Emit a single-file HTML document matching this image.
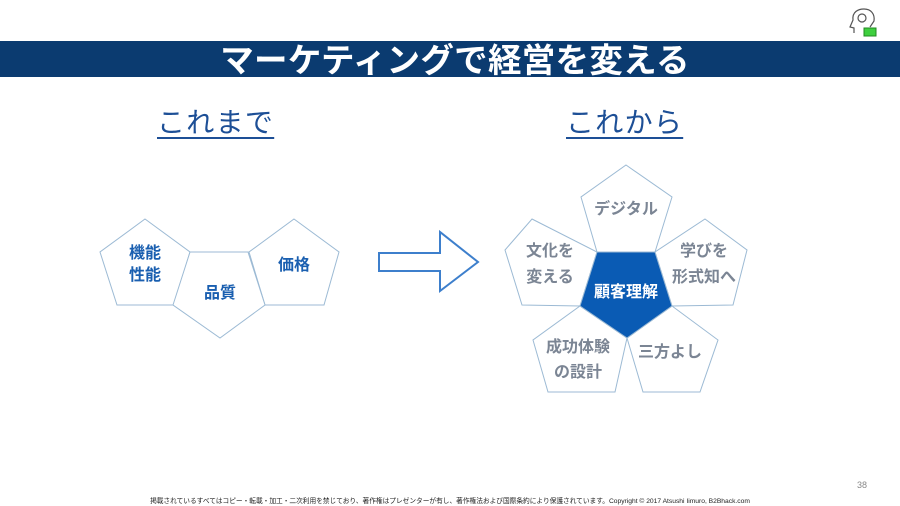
<!DOCTYPE html>
<html><head><meta charset="utf-8"><style>
body{margin:0;width:900px;height:506px;background:#fff;overflow:hidden;position:relative;font-family:"Liberation Sans","Noto Sans CJK JP",sans-serif}
.bar{position:absolute;left:0;top:41px;width:900px;height:36px;background:#0b3b70}
.title{position:absolute;left:0;width:910px;top:44px;text-align:center;color:#fff;font-size:33.5px;font-weight:bold;line-height:36px;letter-spacing:0.3px}
.h{position:absolute;top:103px;font-size:28px;color:#1d4f96;text-decoration:underline;text-decoration-thickness:2px;text-underline-offset:5px;letter-spacing:1.3px;line-height:40px}
.foot{position:absolute;top:495px;left:0;width:900px;text-align:center;font-size:6.7px;color:#222}
.pg{position:absolute;right:33px;top:480px;font-size:9px;color:#888}
</style></head><body>
<div class="bar"></div>
<div class="title">マーケティングで経営を変える</div>
<div class="h" style="left:157px">これまで</div>
<div class="h" style="left:566px">これから</div>
<svg width="900" height="506" style="position:absolute;left:0;top:0" font-family="Liberation Sans, Noto Sans CJK JP, sans-serif" font-weight="bold">
<g fill="#fff" stroke="#9cbad4" stroke-width="1">
<polygon points="145,219 190,252 174,305 117,305 100,252"/>
<polygon points="294,219 339,252 324,305 265,305 249,252"/>
<polygon points="190,252 248,252 265,305 220,338 173,305"/>
</g>
<g fill="#1a5fb0" font-size="16" text-anchor="middle">
<text x="145" y="258">機能</text><text x="145" y="280">性能</text>
<text x="220" y="298">品質</text><text x="294" y="270">価格</text>
</g>
<polygon points="379,253 440,253 440,232 478,262 440,291 440,271 379,271" fill="#fff" stroke="#3d7fcc" stroke-width="2"/>
<g fill="#fff" stroke="#9cbad4" stroke-width="1">
<polygon points="626,165 672,197 655,252 597,252 581,197"/>
<polygon points="532,219 597,252 580,306 522,305 505,250"/>
<polygon points="705,219 747,250 733,305 672,306 655,252"/>
<polygon points="580,306 627,338 615,392 548,392 533,340"/>
<polygon points="672,306 718,340 700,392 643,392 627,338"/>
</g>
<polygon points="597,252 655,252 672,306 627,338 580,306" fill="#0a5bb4" stroke="#9cbad4"/>
<g fill="#7b8594" font-size="16" text-anchor="middle">
<text x="626" y="214">デジタル</text>
<text x="550" y="256">文化を</text><text x="550" y="282">変える</text>
<text x="704" y="256">学びを</text><text x="704" y="282">形式知へ</text>
<text x="578" y="352">成功体験</text><text x="578" y="377">の設計</text>
<text x="670" y="357">三方よし</text>
</g>
<text x="626" y="297" fill="#fff" font-size="16" text-anchor="middle">顧客理解</text>
<g stroke="#555" fill="none" stroke-width="1.2">
<path d="M854,33 L854,28 L850,27 L853,20 C852,12 858,9 864,9 C871,9 875,14 874,21 L870,27"/>
<circle cx="862" cy="18" r="4"/>
</g>
<rect x="864" y="28" width="12" height="8" fill="#3ecf3e" stroke="#228822"/>
</svg>
<div class="pg">38</div>
<div class="foot">掲載されているすべてはコピー・転載・加工・二次利用を禁じており、著作権はプレゼンターが有し、著作権法および国際条約により保護されています。Copyright © 2017 Atsushi Iimuro, B2Bhack.com</div>
</body></html>
